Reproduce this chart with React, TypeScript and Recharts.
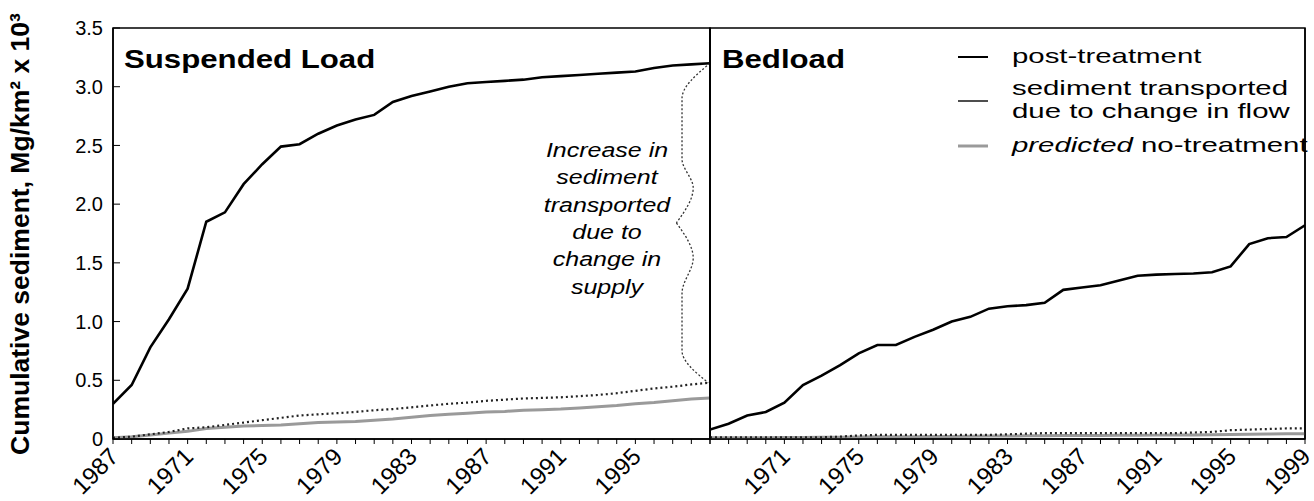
import React from 'react';
import { LineChart, Line, XAxis, YAxis, ReferenceArea } from 'recharts';

// ---------------- data ----------------
const years = [
  1967, 1968, 1969, 1970, 1971, 1972, 1973, 1974, 1975, 1976, 1977,
  1978, 1979, 1980, 1981, 1982, 1983, 1984, 1985, 1986, 1987, 1988,
  1989, 1990, 1991, 1992, 1993, 1994, 1995, 1996, 1997, 1998, 1999,
];

const suspendedPost = [
  0.30, 0.46, 0.78, 1.02, 1.28, 1.85, 1.93, 2.17, 2.34, 2.49, 2.51,
  2.60, 2.67, 2.72, 2.76, 2.87, 2.92, 2.96, 3.00, 3.03, 3.04, 3.05,
  3.06, 3.08, 3.09, 3.10, 3.11, 3.12, 3.13, 3.16, 3.18, 3.19, 3.20,
];
const suspendedFlow = [
  0.01, 0.02, 0.04, 0.06, 0.09, 0.10, 0.12, 0.14, 0.16, 0.18, 0.20,
  0.21, 0.22, 0.23, 0.245, 0.255, 0.27, 0.285, 0.30, 0.31, 0.325, 0.335,
  0.345, 0.35, 0.355, 0.365, 0.375, 0.39, 0.41, 0.43, 0.445, 0.465, 0.48,
];
const suspendedPredicted = [
  0.01, 0.02, 0.035, 0.05, 0.065, 0.09, 0.10, 0.11, 0.115, 0.12, 0.13,
  0.14, 0.145, 0.15, 0.16, 0.17, 0.185, 0.20, 0.21, 0.22, 0.23, 0.235,
  0.245, 0.25, 0.255, 0.265, 0.275, 0.285, 0.30, 0.31, 0.325, 0.34, 0.35,
];

const bedloadPost = [
  0.08, 0.13, 0.20, 0.23, 0.31, 0.46, 0.54, 0.63, 0.73, 0.80, 0.80,
  0.87, 0.93, 1.00, 1.04, 1.11, 1.13, 1.14, 1.16, 1.27, 1.29, 1.31,
  1.35, 1.39, 1.40, 1.405, 1.41, 1.42, 1.47, 1.66, 1.71, 1.72, 1.82,
];
const bedloadFlow = [
  0.015, 0.015, 0.015, 0.015, 0.015, 0.015, 0.015, 0.02, 0.03, 0.035, 0.035,
  0.035, 0.035, 0.035, 0.035, 0.035, 0.04, 0.045, 0.05, 0.05, 0.05, 0.05,
  0.05, 0.05, 0.05, 0.05, 0.055, 0.06, 0.075, 0.08, 0.085, 0.09, 0.09,
];
const bedloadPredicted = [
  0.01, 0.01, 0.01, 0.01, 0.012, 0.012, 0.014, 0.015, 0.018, 0.02, 0.02,
  0.02, 0.022, 0.022, 0.024, 0.025, 0.026, 0.027, 0.028, 0.029, 0.03, 0.03,
  0.031, 0.032, 0.033, 0.034, 0.035, 0.036, 0.038, 0.04, 0.042, 0.044, 0.045,
];

const yTicks = [0, 0.5, 1, 1.5, 2, 2.5, 3, 3.5];
const yTickLabels = ['0', '0.5', '1.0', '1.5', '2.0', '2.5', '3.0', '3.5'];

const leftXTickYears = [1967, 1971, 1975, 1979, 1983, 1987, 1991, 1995];
const leftXTickLabels = ['1987', '1971', '1975', '1979', '1983', '1987', '1991', '1995'];
const rightXTickYears = [1971, 1975, 1979, 1983, 1987, 1991, 1995, 1999];
const rightXTickLabels = ['1971', '1975', '1979', '1983', '1987', '1991', '1995', '1999'];

const panelTitles = ['Suspended Load', 'Bedload'];
const yAxisTitle = 'Cumulative sediment, Mg/km² x 10³';
const annotationLines = ['Increase in', 'sediment', 'transported', 'due to', 'change in', 'supply'];
const legendLabels = ['post-treatment', 'sediment transported', 'due to change in flow', 'predicted', ' no-treatment'];

// ---------------- helpers ----------------
const FONT = 'Liberation Sans, Arial, Helvetica, sans-serif';
const DOMAIN_X: [number, number] = [1967, 1999];
const DOMAIN_Y: [number, number] = [0, 3.5];

const toPoints = (vals: number[]) => years.map((year, i) => ({ year, value: vals[i] }));

function bracePoints(xEnd: number, top: number, bottom: number) {
  const span = top - bottom;
  const shape: [number, number][] = [
    [0, 1], [-1.5, 0.89], [-1.5, 0.7], [-0.9, 0.61], [-1.8, 0.5],
    [-0.9, 0.39], [-1.5, 0.28], [-1.5, 0.1], [-0.1, 0],
  ];
  const pts = shape.map(([dx, t]) => ({ year: xEnd + dx, value: bottom + t * span }));
  return [pts.slice(0, 5), pts.slice(4)];
}

const makeXTick = (tickYears: number[], labels: string[]) => (props: any) => {
  const { x, y, payload } = props;
  const idx = tickYears.indexOf(payload.value);
  if (idx < 0) return <g />;
  return (
    <g transform={`translate(${x + 1},${y + 6})`}>
      <text
        transform="rotate(-45)"
        textAnchor="end"
        dy="0.35em"
        fontSize={24}
        fontFamily={FONT}
        fill="#000"
      >
        {labels[idx]}
      </text>
    </g>
  );
};

const seriesStyles = {
  post: { stroke: '#000', strokeWidth: 2.6 },
  flow: { stroke: '#222', strokeWidth: 2.2, strokeDasharray: '2 3' },
  predicted: { stroke: '#9a9a9a', strokeWidth: 3 },
};

const LegendOverlay = () => {
  const ox = 950;
  const oy = 30;
  const tx = 62;
  const fs = 21;
  const sx = 1.4;
  const T = (y: number, children: React.ReactNode) => (
    <text transform={`translate(${ox + tx},${oy + y}) scale(${sx},1)`} fontSize={fs} fontFamily={FONT} fill="#000" dominantBaseline="middle">
      {children}
    </text>
  );
  return (
    <g>
      <line x1={ox + 8} x2={ox + 38} y1={oy + 27} y2={oy + 27} stroke="#000" strokeWidth={2} />
      {T(27, legendLabels[0])}
      <line x1={ox + 8} x2={ox + 38} y1={oy + 71} y2={oy + 71} stroke="#222" strokeWidth={1.6} />
      {T(59, legendLabels[1])}
      {T(82, legendLabels[2])}
      <line x1={ox + 8} x2={ox + 38} y1={oy + 116} y2={oy + 116} stroke="#9a9a9a" strokeWidth={3} />
      {T(116, <><tspan fontStyle="italic">{legendLabels[3]}</tspan>{legendLabels[4]}</>)}
    </g>
  );
};

function Panel(props: {
  post: number[]; flow: number[]; predicted: number[];
  tickYears: number[]; tickLabels: string[];
  showYLabels: boolean; brace?: boolean;
  width: number; margin: any;
}) {
  const { post, flow, predicted, tickYears, tickLabels, showYLabels, brace, width, margin } = props;
  const postPts = toPoints(post);
  const flowPts = toPoints(flow);
  const predPts = toPoints(predicted);
  const [braceUp, braceLow] = bracePoints(years[years.length - 1], post[post.length - 1], flow[flow.length - 1]);
  return (
    <LineChart width={width} height={501} margin={margin}>
      <XAxis
        dataKey="year"
        type="number"
        domain={DOMAIN_X}
        allowDataOverflow
        ticks={years}
        interval={0}
        height={50}
        tickSize={5}
        tickMargin={2}
        axisLine={{ stroke: '#000', strokeWidth: 1.5 }}
        tickLine={{ stroke: '#000', strokeWidth: 1 }}
        tick={makeXTick(tickYears, tickLabels)}
      />
      {showYLabels ? (
        <YAxis
          yAxisId="l"
          type="number"
          domain={DOMAIN_Y}
          ticks={yTicks}
          interval={0}
          width={60}
          tickSize={-7}
          tickMargin={17}
          axisLine={{ stroke: '#000', strokeWidth: 1.5 }}
          tickLine={{ stroke: '#000', strokeWidth: 1 }}
          tickFormatter={(v: number) => yTickLabels[yTicks.indexOf(v)]}
          tick={{ fontSize: 20, fill: '#000', fontFamily: FONT }}
        />
      ) : (
        <YAxis
          yAxisId="l"
          type="number"
          domain={DOMAIN_Y}
          ticks={yTicks}
          interval={0}
          width={1}
          mirror
          tick={false}
          tickSize={7}
          axisLine={{ stroke: '#000', strokeWidth: 1.5 }}
          tickLine={{ stroke: '#000', strokeWidth: 1 }}
        />
      )}
      <YAxis
        yAxisId="r"
        orientation="right"
        type="number"
        domain={DOMAIN_Y}
        ticks={yTicks}
        interval={0}
        width={1}
        mirror
        tick={false}
        tickSize={showYLabels ? 0 : 7}
        axisLine={{ stroke: '#000', strokeWidth: 1.5 }}
        tickLine={{ stroke: '#000', strokeWidth: 1 }}
      />
      <ReferenceArea
        yAxisId="l"
        x1={DOMAIN_X[0]}
        x2={DOMAIN_X[1]}
        y1={DOMAIN_Y[0]}
        y2={DOMAIN_Y[1]}
        fill="none"
        fillOpacity={0}
        stroke="#000"
        strokeWidth={1.5}
      />
      <Line yAxisId="l" data={predPts} dataKey="value" name="predicted no-treatment" type="linear" dot={false} activeDot={false} isAnimationActive={false} {...seriesStyles.predicted} />
      <Line yAxisId="l" data={flowPts} dataKey="value" name="sediment transported due to change in flow" type="linear" dot={false} activeDot={false} isAnimationActive={false} {...seriesStyles.flow} />
      <Line yAxisId="l" data={postPts} dataKey="value" name="post-treatment" type="linear" dot={false} activeDot={false} isAnimationActive={false} {...seriesStyles.post} />
      {brace && (
        <Line yAxisId="l" data={braceUp} dataKey="value" name="brace-up" type="monotoneY" dot={false} activeDot={false} isAnimationActive={false} stroke="#333" strokeWidth={1.3} strokeDasharray="2 2" legendType="none" />
      )}
      {brace && (
        <Line yAxisId="l" data={braceLow} dataKey="value" name="brace-low" type="monotoneY" dot={false} activeDot={false} isAnimationActive={false} stroke="#333" strokeWidth={1.3} strokeDasharray="2 2" legendType="none" />
      )}
    </LineChart>
  );
}

export default function App() {
  return (
    <div style={{ position: 'absolute', left: 0, top: 0, width: 1314, height: 501, background: '#fff', overflow: 'hidden' }}>
      <div style={{ position: 'absolute', left: 0, top: 0 }}>
        <Panel
          post={suspendedPost}
          flow={suspendedFlow}
          predicted={suspendedPredicted}
          tickYears={leftXTickYears}
          tickLabels={leftXTickLabels}
          showYLabels
          brace
          width={720}
          margin={{ top: 28, right: 10, bottom: 12, left: 53 }}
        />
      </div>
      <div style={{ position: 'absolute', left: 700, top: 0 }}>
        <Panel
          post={bedloadPost}
          flow={bedloadFlow}
          predicted={bedloadPredicted}
          tickYears={rightXTickYears}
          tickLabels={rightXTickLabels}
          showYLabels={false}
          width={614}
          margin={{ top: 28, right: 9, bottom: 12, left: 10 }}
        />
      </div>
      <svg width={1314} height={501} style={{ position: 'absolute', left: 0, top: 0, pointerEvents: 'none' }}>
        <text transform="translate(29,234) rotate(-90)" textAnchor="middle" fontSize={26.5} fontWeight="bold" fontFamily={FONT} fill="#000">
          {yAxisTitle}
        </text>
        <text transform="translate(124,68) scale(1.2,1)" fontSize={26} fontWeight="bold" fontFamily={FONT} fill="#000">
          {panelTitles[0]}
        </text>
        <text transform="translate(722,68) scale(1.2,1)" fontSize={26} fontWeight="bold" fontFamily={FONT} fill="#000">
          {panelTitles[1]}
        </text>
        {annotationLines.map((ln, i) => (
          <text
            key={ln}
            transform={`translate(607,${157 + i * 27.3}) scale(1.25,1)`}
            textAnchor="middle"
            fontSize={20}
            fontStyle="italic"
            fontFamily={FONT}
            fill="#000"
          >
            {ln}
          </text>
        ))}
        <LegendOverlay />
      </svg>
    </div>
  );
}
